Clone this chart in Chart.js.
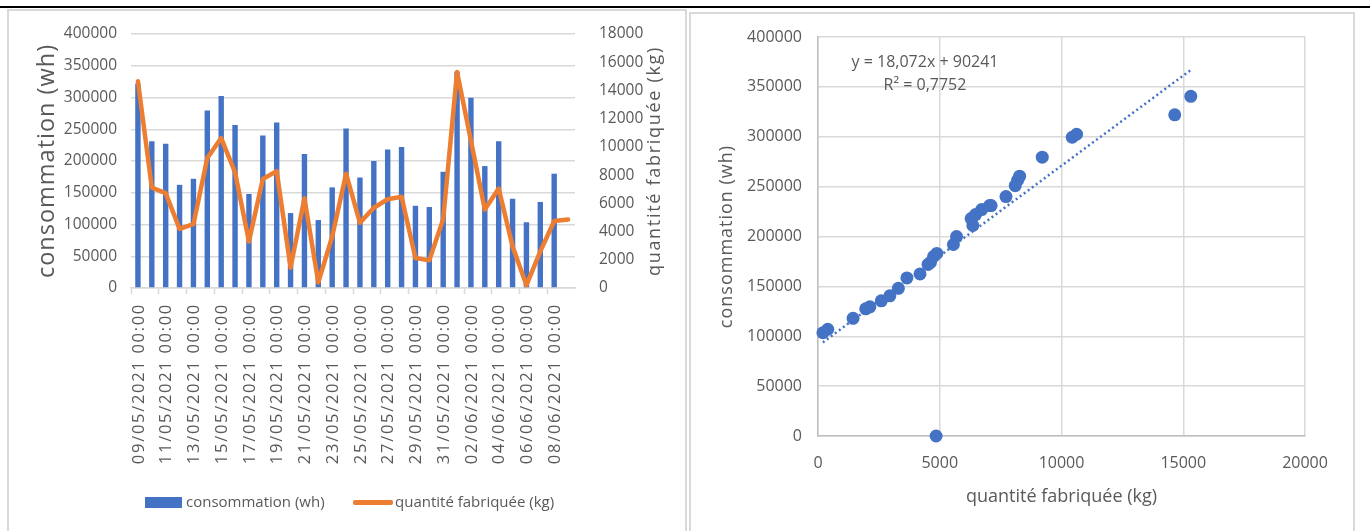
<!DOCTYPE html>
<html>
<head>
<meta charset="utf-8">
<script src="https://cdn.jsdelivr.net/npm/chart.js@4.4.1/dist/chart.umd.min.js"></script>
<style>
  html, body { margin: 0; padding: 0; background: #fff; }
  body { width: 1370px; height: 531px; position: relative; overflow: hidden; font-family: "Open Sans", sans-serif; }
  .rule { position: absolute; left: 0; top: 6px; width: 1370px; height: 2px; background: #000; }
  .panel { position: absolute; border: 2px solid #d9d9d9; border-bottom: none; box-sizing: border-box; }
  #p1 { left: 7px; top: 9px; width: 680px; height: 530px; }
  #p2 { left: 689px; top: 12px; width: 666px; height: 530px; }
  canvas { position: absolute; top: 0; }
  #c1 { left: 0; }
  #c2 { left: 690px; }
  .leg { position: absolute; top: 491px; height: 20px; line-height: 20px; font-size: 15px; color: #595959; white-space: nowrap; }
  .leg .bar { position: absolute; left: 0; top: 6px; width: 37px; height: 11px; background: #4472C4; }
  .leg .line { position: absolute; left: 0; top: 9px; width: 40px; height: 5px; background: #ED7D31; border-radius: 2px; }
  #leg1 { left: 145px; padding-left: 41px; }
  #leg2 { left: 353px; padding-left: 42px; }
</style>
</head>
<body>
<div class="rule"></div>
<div class="panel" id="p1"></div>
<div class="panel" id="p2"></div>
<canvas id="c1" width="690" height="531"></canvas>
<canvas id="c2" width="680" height="531"></canvas>
<div class="leg" id="leg1"><span class="bar"></span>consommation (wh)</div>
<div class="leg" id="leg2"><span class="line"></span>quantité fabriquée (kg)</div>

<script>
// Daily records, 09/05/2021 to 09/06/2021
const dates = [
  "09/05/2021 00:00", "10/05/2021 00:00", "11/05/2021 00:00", "12/05/2021 00:00",
  "13/05/2021 00:00", "14/05/2021 00:00", "15/05/2021 00:00", "16/05/2021 00:00",
  "17/05/2021 00:00", "18/05/2021 00:00", "19/05/2021 00:00", "20/05/2021 00:00",
  "21/05/2021 00:00", "22/05/2021 00:00", "23/05/2021 00:00", "24/05/2021 00:00",
  "25/05/2021 00:00", "26/05/2021 00:00", "27/05/2021 00:00", "28/05/2021 00:00",
  "29/05/2021 00:00", "30/05/2021 00:00", "31/05/2021 00:00", "01/06/2021 00:00",
  "02/06/2021 00:00", "03/06/2021 00:00", "04/06/2021 00:00", "05/06/2021 00:00",
  "06/06/2021 00:00", "07/06/2021 00:00", "08/06/2021 00:00", "09/06/2021 00:00"
];

// Energy consumed per day (wh)
const consommation = [
  322000, 231000, 227000, 162500, 172000, 279500, 302500, 256500,
  148000, 240000, 260500, 118000, 211000, 107000, 158500, 251000,
  174000, 200000, 218000, 222000, 129500, 127500, 183000, 340500,
  299500, 192000, 231000, 140500, 103500, 135500, 180000, 0
];

// Quantity produced per day (kg)
const quantite = [
  14650, 7110, 6720, 4190, 4520, 9210, 10620, 8200,
  3300, 7720, 8280, 1440, 6360, 400, 3650, 8100,
  4620, 5690, 6290, 6470, 2130, 1960, 4880, 15310,
  10440, 5560, 7050, 2950, 200, 2600, 4750, 4850
];

// Axis ranges
const consoAxis = { min: 0, max: 400000, step: 50000 };
const quantAxis = { min: 0, max: 18000, step: 2000 };
const scatterX = { min: 0, max: 20000, step: 5000 };

// Linear trend of consommation against quantite
const trendSlope = 18.072;
const trendIntercept = 90241;
const trendR2 = 0.7752;

const GREY = '#595959';
const GRID = '#d9d9d9';
const FONT = '"Open Sans", sans-serif';

function drawVertical(ctx, text, cx, cy, size, spacing) {
  ctx.save();
  ctx.font = size + 'px ' + FONT;
  ctx.letterSpacing = spacing + 'px';
  ctx.fillStyle = GREY;
  ctx.textAlign = 'center';
  ctx.textBaseline = 'middle';
  ctx.translate(cx, cy);
  ctx.rotate(-Math.PI / 2);
  ctx.fillText(text, 0, 0);
  ctx.restore();
}

const plain = v => String(v);

// ---------- combo chart: bars + line on two y axes ----------
const comboDecor = {
  id: 'comboDecor',
  afterDraw(chart) {
    const { ctx, chartArea, scales } = chart;
    ctx.save();
    ctx.font = '16.5px ' + FONT;
    ctx.letterSpacing = '1.7px';
    ctx.fillStyle = GREY;
    ctx.textAlign = 'right';
    ctx.textBaseline = 'middle';
    dates.forEach((d, i) => {
      if (i % 2) return;
      const x = scales.x.getPixelForValue(i);
      ctx.save();
      ctx.translate(x + 1, chartArea.bottom + 15);
      ctx.rotate(-Math.PI / 2);
      ctx.fillText(d, 0, 0);
      ctx.restore();
    });
    ctx.restore();
    const midY = (chartArea.top + chartArea.bottom) / 2;
    drawVertical(ctx, 'consommation (wh)', 47, midY, 23.5, 1);
    drawVertical(ctx, 'quantité fabriquée (kg)', 655, midY, 18, 1.7);
  }
};

new Chart(document.getElementById('c1'), {
  type: 'bar',
  data: {
    labels: dates,
    datasets: [
      {
        type: 'line',
        label: 'quantité fabriquée (kg)',
        data: quantite,
        yAxisID: 'y1',
        borderColor: '#ED7D31',
        borderWidth: 4.5,
        borderJoinStyle: 'round',
        borderCapStyle: 'round',
        pointRadius: 0,
        tension: 0,
        order: 1
      },
      {
        type: 'bar',
        label: 'consommation (wh)',
        data: consommation,
        yAxisID: 'y',
        backgroundColor: '#4472C4',
        categoryPercentage: 1,
        barPercentage: 0.39,
        order: 2
      }
    ]
  },
  options: {
    responsive: false,
    animation: false,
    layout: { padding: { top: 34, left: 0, right: 0, bottom: 0 } },
    plugins: { legend: { display: false }, tooltip: { enabled: false } },
    scales: {
      x: {
        ticks: { display: false },
        grid: {
          offset: true,
          drawOnChartArea: false,
          drawTicks: true,
          tickLength: 6,
          tickWidth: 1.5,
          tickColor: c => (c.index % 2 === 0 ? GRID : 'rgba(0,0,0,0)')
        },
        border: { color: GRID, width: 1.5 },
        afterFit: s => { s.height = 243; }
      },
      y: {
        position: 'left',
        min: consoAxis.min, max: consoAxis.max,
        ticks: { stepSize: consoAxis.step, padding: 14, color: GREY, font: { family: FONT, size: 15.5 }, callback: plain },
        grid: { color: GRID, lineWidth: 1.5, drawTicks: false },
        border: { display: false },
        afterFit: s => { s.width = 131; }
      },
      y1: {
        position: 'right',
        min: quantAxis.min, max: quantAxis.max,
        ticks: { stepSize: quantAxis.step, padding: 16, color: GREY, font: { family: FONT, size: 15.5 }, callback: plain },
        grid: { display: false },
        border: { display: false },
        afterFit: s => { s.width = 115; }
      }
    }
  },
  plugins: [comboDecor]
});

// ---------- scatter chart with linear trend ----------
const points = quantite.map((q, i) => ({ x: q, y: consommation[i] }));
const qMin = Math.min(...quantite);
const qMax = Math.max(...quantite);
const trendPoints = [
  { x: qMin, y: trendSlope * qMin + trendIntercept },
  { x: qMax, y: trendSlope * qMax + trendIntercept }
];
const fr = (v, d) => v.toFixed(d).replace('.', ',');
const eqLine = 'y = ' + fr(trendSlope, 3) + 'x + ' + trendIntercept;
const r2Line = 'R² = ' + fr(trendR2, 4);

const scatterDecor = {
  id: 'scatterDecor',
  afterDraw(chart) {
    const { ctx, chartArea } = chart;
    ctx.save();
    ctx.fillStyle = GREY;
    ctx.font = '16px ' + FONT;
    ctx.textAlign = 'center';
    ctx.textBaseline = 'middle';
    ctx.fillText(eqLine, chartArea.left + 107, 62);
    ctx.fillText(r2Line, chartArea.left + 107, 85);
    ctx.font = '18px ' + FONT;
    ctx.fillText('quantité fabriquée (kg)', (chartArea.left + chartArea.right) / 2, 497);
    ctx.restore();
    drawVertical(ctx, 'consommation (wh)', 37, (chartArea.top + chartArea.bottom) / 2, 18, 1);
  }
};

new Chart(document.getElementById('c2'), {
  type: 'scatter',
  data: {
    datasets: [
      {
        label: 'tendance',
        data: trendPoints,
        showLine: true,
        borderColor: '#4472C4',
        borderWidth: 2.5,
        borderDash: [2, 3],
        pointRadius: 0,
        order: 1
      },
      {
        label: 'consommation (wh)',
        data: points,
        pointRadius: 6.5,
        backgroundColor: '#4472C4',
        borderColor: '#4472C4',
        borderWidth: 0,
        clip: false,
        order: 2
      }
    ]
  },
  options: {
    responsive: false,
    animation: false,
    layout: { padding: { top: 37, left: 0, right: 65, bottom: 0 } },
    plugins: { legend: { display: false }, tooltip: { enabled: false } },
    scales: {
      x: {
        type: 'linear',
        min: scatterX.min, max: scatterX.max,
        ticks: { stepSize: scatterX.step, padding: 18, color: GREY, font: { family: FONT, size: 16 }, callback: plain },
        grid: { color: GRID, lineWidth: 1.5, drawTicks: false },
        border: { color: '#bfbfbf', width: 1.5 },
        afterFit: s => { s.height = 95; }
      },
      y: {
        min: consoAxis.min, max: consoAxis.max,
        ticks: { stepSize: consoAxis.step, padding: 16, color: GREY, font: { family: FONT, size: 16 }, callback: plain },
        grid: { color: GRID, lineWidth: 1.5, drawTicks: false },
        border: { color: '#bfbfbf', width: 1.5 },
        afterFit: s => { s.width = 128; }
      }
    }
  },
  plugins: [scatterDecor]
});
</script>
</body>
</html>
